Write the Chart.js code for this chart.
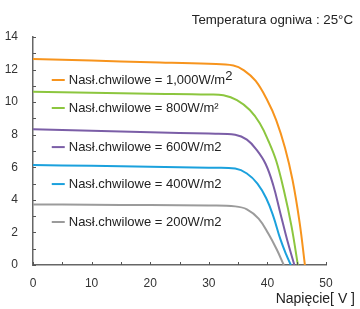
<!DOCTYPE html>
<html>
<head>
<meta charset="utf-8">
<script src="https://cdn.jsdelivr.net/npm/chart.js@4.4.1/dist/chart.umd.min.js"></script>
<style>
  html, body { margin: 0; padding: 0; background: #fff; }
  #wrap { width: 360px; height: 309px; }
</style>
</head>
<body>
<div id="wrap"><canvas id="mycanvas" width="360" height="309"></canvas></div>
<script>
// Krzywe I-V
var seriesLabels = ['1,000', '800', '600', '400', '200'];
var seriesColors = ['#f7941d', '#8cc63f', '#7b5ea7', '#1ba1dd', '#9b9b9b'];

var v1000 = [0, 10, 20, 30, 34.2, 36, 38, 40, 41.5, 43, 44.3, 45.5, 46.4];
var i1000 = [12.65, 12.55, 12.45, 12.35, 12.25, 11.95, 11.3, 10.1, 8.9, 7.2, 5.2, 2.6, 0];

var v800 = [0, 10, 20, 30, 32.5, 34.8, 37, 38.7, 40.2, 41.5, 42.8, 44.1, 45.2];
var i800 = [10.64, 10.57, 10.52, 10.47, 10.42, 10.13, 9.52, 8.7, 7.6, 6.4, 4.6, 2.4, 0];

var v600 = [0, 10, 20, 30, 34.5, 36.5, 38.2, 39.7, 41, 42.2, 43.4, 44.6];
var i600 = [8.33, 8.24, 8.15, 8.07, 8.0, 7.7, 7.05, 6.2, 4.9, 3.2, 1.5, 0];

var v400 = [0, 10, 20, 30, 34.5, 36.5, 38.3, 39.8, 41, 42.2, 43.2, 44.0];
var i400 = [6.14, 6.09, 6.03, 5.97, 5.92, 5.62, 5.0, 4.1, 3.0, 1.6, 0.65, 0];

var v200 = [0, 10, 20, 30, 34.5, 36.5, 38.5, 40.2, 41.6, 42.8];
var i200 = [3.72, 3.70, 3.68, 3.65, 3.6, 3.42, 2.85, 1.9, 0.95, 0];

var xTicks = [0, 10, 20, 30, 40, 50];
var yTicks = [0, 2, 4, 6, 8, 10, 12, 14];

var legendLabels = [
    'Nasł.chwilowe = 1,000W/m',
    'Nasł.chwilowe = 800W/m²',
    'Nasł.chwilowe = 600W/m2',
    'Nasł.chwilowe = 400W/m2',
    'Nasł.chwilowe = 200W/m2'
];
var legendY = [11.36, 9.64, 7.24, 4.97, 2.64];

var titleText = 'Temperatura ogniwa : 25°C';
var xTitle = 'Napięcie[ V ]';

function pts(xs, ys) {
    var out = [];
    for (var i in xs) out.push({ x: xs[i], y: ys[i] });
    return out;
}

var allV = [v1000, v800, v600, v400, v200];
var allI = [i1000, i800, i600, i400, i200];
var datasets = [];
for (var s = 0; s < allV.length; s++) {
    datasets.push({
        label: seriesLabels[s],
        data: pts(allV[s], allI[s]),
        borderColor: seriesColors[s],
        backgroundColor: seriesColors[s],
        borderWidth: 2,
        pointRadius: 0,
        showLine: true,
        fill: false,
        tension: 0.4
    });
}

var FONT = '"Liberation Sans", Arial, sans-serif';

var extras = {
    id: 'extras',
    afterDraw: function (chart) {
        var c = chart.ctx, xs = chart.scales.x, ys = chart.scales.y;
        c.save();
        // wewnętrzne kreski podziałki
        c.strokeStyle = '#555';
        c.lineWidth = 1;
        c.beginPath();
        for (var v = 0; v <= 14; v++) {
            var py = Math.round(ys.getPixelForValue(v)) + 0.5;
            c.moveTo(xs.left, py);
            c.lineTo(xs.left + 3, py);
        }
        for (var u = 0; u <= 50; u += 5) {
            var px = Math.round(xs.getPixelForValue(u)) + 0.5;
            c.moveTo(px, ys.bottom);
            c.lineTo(px, ys.bottom - 3);
        }
        c.stroke();

        // legenda w obszarze wykresu
        c.font = '13px ' + FONT;
        c.textBaseline = 'middle';
        c.textAlign = 'left';
        for (var k = 0; k < legendLabels.length; k++) {
            var y = ys.getPixelForValue(legendY[k]);
            var x0 = xs.getPixelForValue(3.2);
            c.strokeStyle = seriesColors[k];
            c.lineWidth = 2;
            c.beginPath();
            c.moveTo(x0, y);
            c.lineTo(x0 + 13, y);
            c.stroke();
            c.fillStyle = '#222';
            c.fillText(legendLabels[k], x0 + 17, y);
            if (k === 0) {
                var w = c.measureText(legendLabels[k]).width;
                c.fillText('2', x0 + 17 + w, y - 4);
            }
        }

        // tytuł i opis osi
        c.textAlign = 'right';
        c.textBaseline = 'alphabetic';
        c.fillStyle = '#222';
        c.font = '13.3px ' + FONT;
        c.fillText(titleText, 353, 24);
        c.font = '14px ' + FONT;
        c.fillText(xTitle, 355, 303);
        c.restore();
    }
};

var ctx = document.getElementById('mycanvas');
var chart = new Chart(ctx, {
    type: 'scatter',
    data: { datasets: datasets },
    options: {
        responsive: false,
        animation: false,
        layout: { padding: { top: 37, right: 34, left: 0, bottom: 0 } },
        plugins: { legend: { display: false }, tooltip: { enabled: false } },
        scales: {
            x: {
                type: 'linear',
                min: 0, max: 50,
                afterFit: function (scale) { scale.height = 44; },
                afterBuildTicks: function (scale) {
                    scale.ticks = xTicks.map(function (v) { return { value: v }; });
                },
                grid: { display: false },
                border: { display: true, color: '#666', width: 1.5 },
                ticks: { color: '#333', font: { family: FONT, size: 12 }, padding: 3, maxRotation: 0 }
            },
            y: {
                type: 'linear',
                min: 0, max: 14,
                afterFit: function (scale) { scale.width = 33; },
                afterBuildTicks: function (scale) {
                    scale.ticks = yTicks.map(function (v) { return { value: v }; });
                },
                grid: { display: false },
                border: { display: true, color: '#666', width: 1.5 },
                ticks: { color: '#333', font: { family: FONT, size: 12 }, padding: 7 }
            }
        }
    },
    plugins: [extras]
});
</script>
</body>
</html>
